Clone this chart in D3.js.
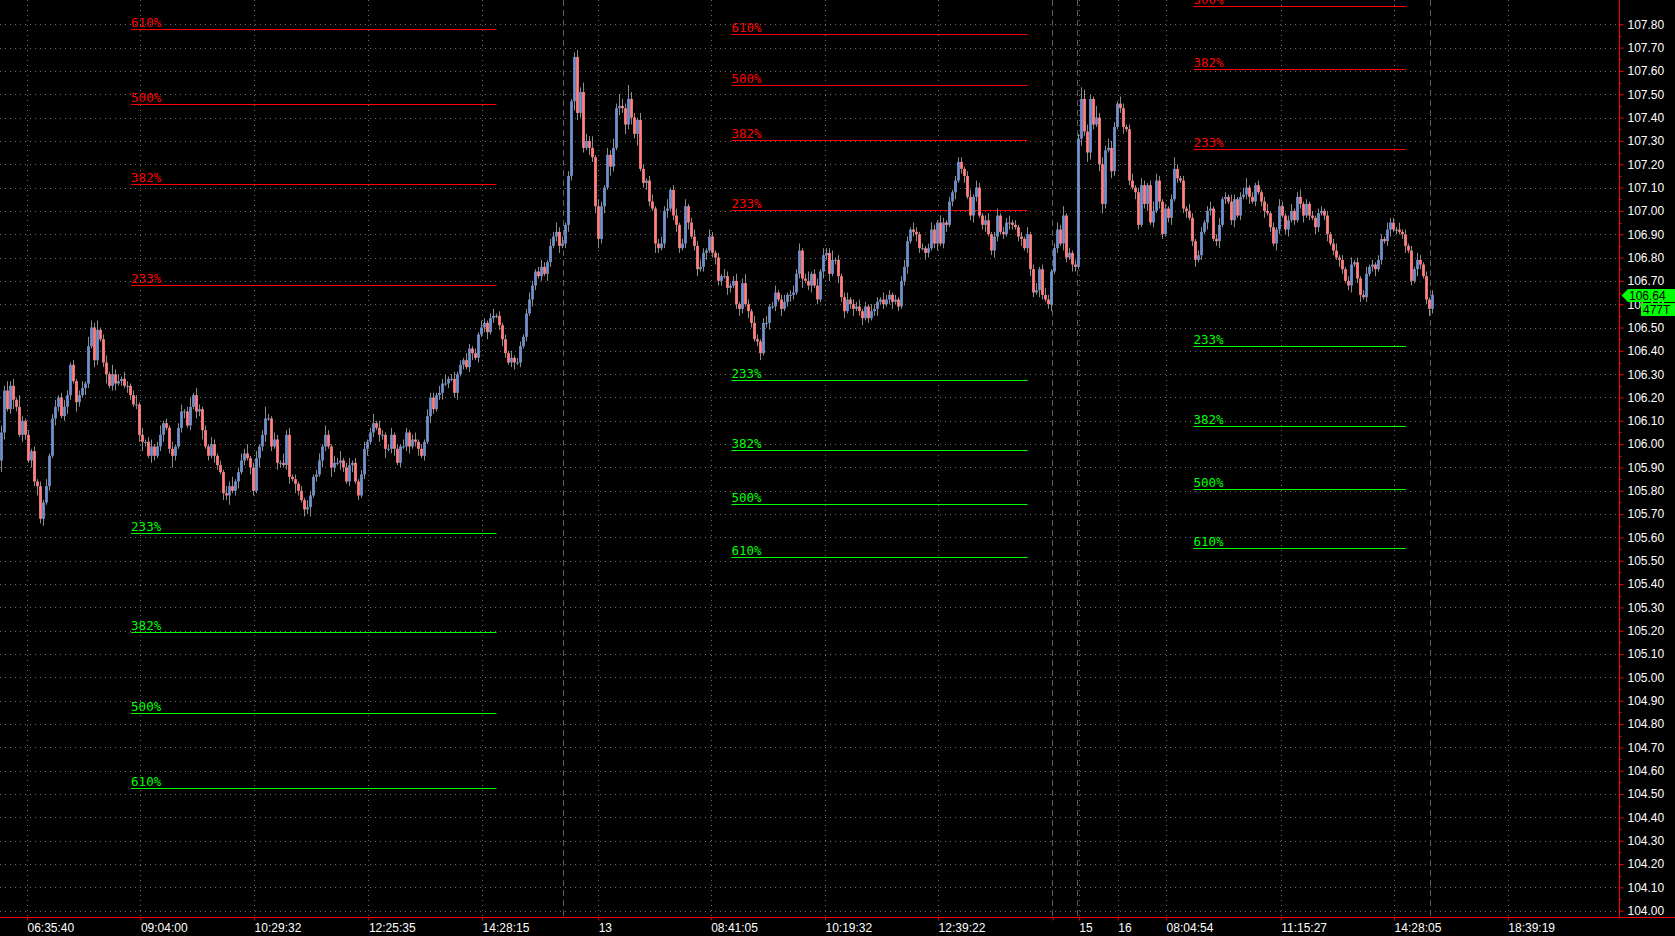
<!DOCTYPE html>
<html><head><meta charset="utf-8">
<script src="https://cdn.jsdelivr.net/npm/d3@7"></script>
<style>html,body{margin:0;padding:0;background:#000;overflow:hidden}</style>
</head><body>
<svg id="chart" width="1675" height="936"></svg>
<script>
// ---------------- data ----------------
const firstOpen = 105.93;
const closes = [
106.05,106.23,106.15,106.25,106.19,106.16,106.04,106.10,106.04,105.93,
105.97,105.84,105.82,105.68,105.75,105.82,105.95,106.11,106.16,106.20,
106.12,106.16,106.21,106.34,106.27,106.18,106.21,106.24,106.26,106.42,
106.50,106.36,106.49,106.45,106.35,106.30,106.25,106.30,106.26,106.27,
106.28,106.25,106.25,106.21,106.17,106.17,106.04,106.01,106.01,105.95,
105.99,105.95,105.99,106.04,106.09,106.07,105.98,105.95,105.99,106.07,
106.14,106.14,106.08,106.16,106.21,106.14,106.15,106.06,105.99,105.95,
106.00,105.95,105.91,105.88,105.79,105.78,105.82,105.80,105.84,105.88,
105.93,105.96,105.94,105.90,105.80,105.94,105.99,106.04,106.11,106.11,
105.99,106.02,105.92,105.92,105.91,106.04,105.86,105.85,105.83,105.80,
105.76,105.72,105.73,105.78,105.86,105.87,105.93,105.99,106.04,105.99,
105.90,105.92,105.92,105.93,105.90,105.84,105.91,105.92,105.84,105.78,
105.87,105.98,106.01,106.05,106.09,106.07,106.04,106.04,105.98,105.98,
106.04,105.98,105.92,105.99,105.99,106.05,105.99,106.02,106.01,105.98,
105.95,106.01,106.12,106.20,106.15,106.21,106.22,106.26,106.26,106.28,
106.28,106.22,106.30,106.34,106.36,106.33,106.41,106.39,106.37,106.47,
106.50,106.52,106.48,106.54,106.55,106.55,106.51,106.45,106.39,106.35,
106.37,106.35,106.35,106.42,106.46,106.56,106.62,106.68,106.74,106.72,
106.76,106.73,106.78,106.85,106.89,106.91,106.85,106.86,106.94,107.15,
107.47,107.66,107.42,107.51,107.27,107.30,107.27,107.23,107.02,106.88,
107.02,107.10,107.24,107.19,107.27,107.44,107.45,107.44,107.37,107.48,
107.40,107.33,107.39,107.18,107.12,107.13,107.04,107.01,106.86,106.84,
106.86,107.00,107.01,107.09,106.98,106.94,106.84,106.86,107.02,106.95,
106.89,106.85,106.75,106.76,106.82,106.83,106.89,106.82,106.80,106.70,
106.72,106.72,106.67,106.68,106.70,106.60,106.58,106.69,106.60,106.57,
106.52,106.45,106.44,106.39,106.52,106.52,106.59,106.59,106.65,106.62,
106.58,106.61,106.64,106.64,106.65,106.73,106.83,106.71,106.70,106.68,
106.73,106.68,106.62,106.74,106.81,106.82,106.73,106.79,106.79,106.72,
106.63,106.57,106.62,106.60,106.58,106.59,106.57,106.54,106.59,106.54,
106.57,106.58,106.61,106.62,106.60,106.62,106.64,106.61,106.62,106.59,
106.70,106.76,106.87,106.92,106.91,106.90,106.84,106.84,106.82,106.84,
106.92,106.86,106.95,106.86,106.95,106.94,107.04,107.08,107.13,107.21,
107.18,107.15,107.06,106.98,107.06,107.10,106.98,106.94,106.96,106.90,
106.83,106.89,106.98,106.91,106.90,106.95,106.95,106.94,106.93,106.89,
106.88,106.84,106.90,106.75,106.65,106.66,106.75,106.64,106.62,106.60,
106.74,106.84,106.92,106.86,106.98,106.80,106.82,106.77,106.76,107.31,
107.48,107.34,107.25,107.48,107.37,107.40,107.20,107.03,107.26,107.27,
107.17,107.36,107.46,107.44,107.36,107.35,107.13,107.10,107.08,106.94,
107.11,107.03,107.11,106.95,107.00,107.13,107.04,106.90,107.01,106.97,
107.05,107.18,107.14,107.13,107.01,107.00,106.97,106.87,106.79,106.81,
106.91,106.95,107.00,107.01,106.88,106.87,106.94,107.05,107.06,107.04,
106.96,107.05,106.98,107.06,107.07,107.10,107.06,107.04,107.11,107.08,
107.04,107.00,106.99,106.93,106.86,106.92,107.02,106.98,106.92,106.96,
107.00,106.96,107.06,107.03,106.98,107.03,106.98,106.97,106.93,106.99,
107.00,106.98,106.90,106.86,106.83,106.80,106.79,106.75,106.70,106.68,
106.77,106.78,106.71,106.64,106.63,106.73,106.76,106.77,106.75,106.79,
106.88,106.87,106.92,106.95,106.92,106.92,106.91,106.90,106.85,106.83,
106.70,106.75,106.79,106.77,106.72,106.62,106.58,106.64
];
// wick extensions above / below the body, in cents
const hiWick = [
3,2,4,2,3,1,5,2,1,2,1,2,1,2,1,3,1,2,3,1, 2,3,2,1,2,1,2,3,1,4,3,2,4,1,2,3,1,4,2,3,
1,3,2,1,2,4,1,3,1,2,3,1,2,4,1,2,1,3,1,2, 3,1,2,4,1,3,2,1,2,1,3,2,1,2,1,3,2,4,1,2,
3,2,4,1,2,3,1,2,5,2,1,3,2,1,4,2,3,1,2,1, 2,1,3,2,1,2,3,1,4,2,1,3,2,4,1,2,3,1,2,1,
2,3,1,2,4,1,3,2,1,2,3,1,2,1,3,2,1,2,3,1, 2,1,3,2,2,1,3,2,4,1,2,3,1,2,1,3,2,1,2,1,
3,2,1,2,3,1,2,1,2,1,3,1,2,2,1,2,3,2,1,2, 3,2,1,3,2,4,2,3,1,2,1,2,3,2,4,3,2,5,1,3,
2,1,3,2,4,2,5,3,2,6,3,2,1,3,2,1,2,3,1,2, 3,2,4,1,2,3,1,2,3,1,2,3,2,3,2,1,3,2,1,2,
1,3,2,1,2,3,1,2,4,2,1,3,2,1,2,3,1,2,3,1, 2,3,1,2,3,2,3,1,2,4,1,2,3,1,3,2,2,4,1,2,
1,2,3,1,2,2,3,1,2,1,3,2,2,1,3,2,2,1,2,1, 2,3,2,1,3,2,1,2,1,2,3,2,1,3,2,1,2,1,2,2,
2,1,2,3,1,3,2,1,2,3,1,2,3,1,2,2,3,1,2,1, 2,1,3,1,2,3,1,2,3,2,1,2,3,2,4,1,2,1,2,2,
5,4,3,2,1,5,2,3,2,4,3,2,1,3,2,1,2,3,1,2, 3,2,1,2,4,3,2,1,2,1,2,5,2,1,2,1,3,2,1,2,
2,1,2,3,1,2,3,1,2,1,3,2,1,2,3,4,1,2,1,2, 1,2,3,1,2,1,3,2,1,2,3,1,2,3,1,2,1,2,1,2,
2,1,2,1,2,3,1,2,1,2,3,1,2,1,2,3,1,2,1,2, 2,1,3,2,2,1,3,1,2,1,2,1,3,2,1,2,1,2
];
const loWick = [
5,3,1,2,4,2,1,3,2,1,3,2,4,2,3,1,2,1,3,2, 1,2,3,2,1,4,2,1,3,2,1,3,2,1,2,4,1,2,3,1,
2,1,3,2,1,2,3,4,2,1,3,2,1,2,3,1,2,5,2,1, 2,3,1,2,1,3,2,4,1,2,1,3,2,1,3,2,4,1,2,3,
1,2,1,3,2,1,4,2,3,1,2,1,3,2,1,2,3,1,4,2, 1,3,2,4,1,2,1,3,2,1,4,2,1,3,2,1,2,3,1,2,
1,2,3,1,2,1,3,2,4,1,2,3,1,2,1,2,3,1,2,3, 1,2,1,3,2,1,2,3,1,2,1,2,3,1,2,1,2,3,1,2,
1,2,3,1,2,1,2,3,2,1,2,3,1,2,1,2,1,3,2,1, 2,1,3,2,1,2,3,1,2,3,2,4,3,2,2,1,3,2,3,4,
2,3,1,4,2,1,3,2,4,2,3,2,5,1,2,3,2,1,4,2, 1,2,3,1,2,3,2,1,2,3,1,2,3,1,2,3,1,2,3,2,
2,1,3,2,1,2,3,2,1,3,2,1,2,3,1,2,3,1,2,1, 3,1,2,3,2,1,2,4,1,2,3,1,2,1,3,2,3,1,2,3,
2,3,1,2,3,1,2,3,1,2,1,2,3,1,2,1,2,3,1,2, 1,2,3,1,2,3,2,1,3,2,1,2,3,1,2,3,1,2,3,1,
2,3,1,2,3,2,1,2,3,1,2,3,2,1,2,1,3,2,1,2, 3,1,2,3,2,1,3,2,1,2,3,1,2,1,3,2,1,3,2,1,
3,2,4,3,2,1,3,4,2,1,3,2,1,2,3,1,2,1,3,2, 1,2,3,1,2,1,3,2,1,2,3,1,2,1,2,3,1,2,3,1,
2,1,3,2,1,2,3,1,2,1,2,3,1,2,1,2,3,1,2,1, 2,3,1,2,1,3,2,1,2,3,1,2,1,2,3,1,2,1,3,2,
1,2,3,1,2,1,3,2,1,2,3,1,2,3,1,2,1,2,3,1, 2,1,2,3,1,2,1,2,3,1,2,1,3,2,1,2,3,2
];

const yTickValues = [104.0,104.1,104.2,104.3,104.4,104.5,104.6,104.7,104.8,104.9,
  105.0,105.1,105.2,105.3,105.4,105.5,105.6,105.7,105.8,105.9,
  106.0,106.1,106.2,106.3,106.4,106.5,106.6,106.7,106.8,106.9,
  107.0,107.1,107.2,107.3,107.4,107.5,107.6,107.7,107.8];
const xTickIndex  = [8.5, 46.3, 84.2, 122.3, 160.2, 198.9, 236.4, 274.5, 312.2, 350.3, 359.1, 372.1, 388.2, 426.4, 464.2, 502.1];
const xTickLabels = ["06:35:40","09:04:00","10:29:32","12:25:35","14:28:15","13","08:41:05","10:19:32","12:39:22","","15","16","08:04:54","11:15:27","14:28:05","18:39:19"];
const separatorIndex = [187.2, 350.3, 358.4, 476.2];

const fibLabels = ["610%","500%","382%","233%"];
const fibStart  = [43.2, 243.3, 397.3];
const fibEnd    = [165.0, 342.0, 468.1];
const fibUpper1 = [107.780, 107.460, 107.116, 106.681];
const fibLower1 = [104.528, 104.849, 105.193, 105.621];
const fibUpper2 = [107.758, 107.540, 107.303, 107.003];
const fibLower2 = [105.518, 105.742, 105.976, 106.273];
const fibUpper3 = [108.134, 107.879, 107.607, 107.264];
const fibLower3 = [105.554, 105.806, 106.077, 106.420];

const lastPrice = 106.64;
const lastVolumeLabel = "477T";

// ---------------- drawing ----------------
const W = 1675, H = 936, plotRight = 1619, plotBottom = 917;
const svg = d3.select("#chart");
svg.append("rect").attr("width", W).attr("height", H).attr("fill", "#000");

const x = d3.scaleLinear().domain([0, 539]).range([1.5, 1618.5]);
const y = d3.scaleLinear().domain([103.973, 107.904]).range([plotBottom, 0]);

svg.append("defs").append("clipPath").attr("id", "plotClip")
  .append("rect").attr("x", 0).attr("y", 0).attr("width", plotRight).attr("height", plotBottom);

const plot = svg.append("g").attr("clip-path", "url(#plotClip)");

// horizontal grid
plot.append("g").selectAll("line").data(yTickValues).join("line")
  .attr("x1", 0).attr("x2", plotRight)
  .attr("y1", d => Math.round(y(d)) + 0.5).attr("y2", d => Math.round(y(d)) + 0.5)
  .attr("stroke", "#6a6a6a").attr("stroke-width", 1).attr("stroke-dasharray", "1,4");

// vertical grid
plot.append("g").selectAll("line").data(xTickIndex).join("line")
  .attr("x1", d => Math.round(x(d)) + 0.5).attr("x2", d => Math.round(x(d)) + 0.5)
  .attr("y1", 0).attr("y2", plotBottom)
  .attr("stroke", "#6a6a6a").attr("stroke-width", 1).attr("stroke-dasharray", "1,4");

// session separators
plot.append("g").selectAll("line").data(separatorIndex).join("line")
  .attr("x1", d => Math.round(x(d)) + 0.5).attr("x2", d => Math.round(x(d)) + 0.5)
  .attr("y1", 0).attr("y2", plotBottom)
  .attr("stroke", "#5c5c5c").attr("stroke-width", 1).attr("stroke-dasharray", "6,4");

// fib extension levels
const fibGroups = [
  {s: fibStart[0], e: fibEnd[0], up: fibUpper1, lo: fibLower1},
  {s: fibStart[1], e: fibEnd[1], up: fibUpper2, lo: fibLower2},
  {s: fibStart[2], e: fibEnd[2], up: fibUpper3, lo: fibLower3}
];
const fibLayer = plot.append("g");
fibGroups.forEach(g => {
  [[g.up, "#ff0000"], [g.lo, "#00ff00"]].forEach(([vals, col]) => {
    vals.forEach((v, i) => {
      const yy = Math.round(y(v)) + 0.5;
      fibLayer.append("line")
        .attr("x1", x(g.s)).attr("x2", x(g.e)).attr("y1", yy).attr("y2", yy)
        .attr("stroke", col).attr("stroke-width", 1);
      fibLayer.append("text")
        .attr("x", x(g.s)).attr("y", yy - 3)
        .attr("fill", col)
        .attr("font-family", "'DejaVu Sans Mono', monospace")
        .attr("font-size", 12.5)
        .text(fibLabels[i]);
    });
  });
});

// candles
const candles = closes.map((c, i) => {
  const o = i === 0 ? firstOpen : closes[i - 1];
  const h = Math.max(o, c) + (hiWick[i] || 0) / 100;
  const l = Math.min(o, c) - (loWick[i] || 0) / 100;
  return {i, o, c, h, l};
});
const candleLayer = plot.append("g");
candleLayer.append("g").selectAll("line").data(candles).join("line")
  .attr("x1", d => x(d.i)).attr("x2", d => x(d.i))
  .attr("y1", d => y(d.h)).attr("y2", d => y(d.l))
  .attr("stroke", "#8c8c8c").attr("stroke-width", 1);
candleLayer.append("g").selectAll("rect").data(candles).join("rect")
  .attr("x", d => x(d.i) - 1.4).attr("width", 2.8)
  .attr("y", d => y(Math.max(d.o, d.c)))
  .attr("height", d => Math.max(1, Math.abs(y(d.o) - y(d.c))))
  .attr("fill", d => d.c >= d.o ? "#7091cc" : "#ff8080");

// right axis
const yAxis = d3.axisRight(y).tickValues(yTickValues).tickFormat(d3.format(".2f"))
  .tickSize(4).tickSizeOuter(0).tickPadding(4);
const yAxisG = svg.append("g").attr("transform", `translate(${plotRight + 0.5},0)`).call(yAxis);
yAxisG.select(".domain").remove();
yAxisG.selectAll(".tick line").attr("stroke", "#ff0000");
yAxisG.selectAll(".tick text").attr("fill", "#ffffff")
  .attr("font-family", "'Liberation Sans', Arial, sans-serif").attr("font-size", 12);
// minor ticks
svg.append("g").selectAll("line").data(yTickValues.slice(0, -1)).join("line")
  .attr("x1", plotRight).attr("x2", plotRight + 2.5)
  .attr("y1", (d, i) => Math.round(y((d + yTickValues[i + 1]) / 2)) + 0.5)
  .attr("y2", (d, i) => Math.round(y((d + yTickValues[i + 1]) / 2)) + 0.5)
  .attr("stroke", "#ff0000");
svg.append("line").attr("x1", plotRight + 0.5).attr("x2", plotRight + 0.5)
  .attr("y1", 0).attr("y2", plotBottom).attr("stroke", "#ff0000");

// bottom axis
const xAxis = d3.axisBottom(x).tickValues(xTickIndex).tickFormat((d, i) => xTickLabels[i])
  .tickSize(3).tickSizeOuter(0).tickPadding(3);
const xAxisG = svg.append("g").attr("transform", `translate(0,${plotBottom + 0.5})`).call(xAxis);
xAxisG.select(".domain").remove();
xAxisG.selectAll(".tick line").attr("stroke", "#ff0000");
xAxisG.selectAll(".tick text").attr("fill", "#ffffff").attr("text-anchor", "start")
  .attr("font-family", "'Liberation Sans', Arial, sans-serif").attr("font-size", 12);
svg.append("line").attr("x1", 0).attr("x2", W)
  .attr("y1", plotBottom + 0.5).attr("y2", plotBottom + 0.5).attr("stroke", "#ff0000");

// last price tag
const ly = Math.round(y(lastPrice)) + 0.5;
svg.append("path")
  .attr("d", `M${plotRight + 2.5},${ly} L${plotRight + 9},${ly - 6.5} L${W},${ly - 6.5} L${W},${ly + 6.5} L${plotRight + 9},${ly + 6.5} Z`)
  .attr("fill", "#00ff00");
svg.append("text").attr("x", plotRight + 10).attr("y", ly + 4.5)
  .attr("fill", "#000").attr("font-family", "'Liberation Sans', Arial, sans-serif")
  .attr("font-size", 12).text(d3.format(".2f")(lastPrice));
svg.append("rect").attr("x", 1641).attr("y", ly + 7.5).attr("width", W - 1641).attr("height", 13)
  .attr("fill", "#00ff00");
svg.append("text").attr("x", 1643).attr("y", ly + 18.5)
  .attr("fill", "#000").attr("font-family", "'Liberation Sans', Arial, sans-serif")
  .attr("font-size", 12).text(lastVolumeLabel);
</script>
</body></html>
